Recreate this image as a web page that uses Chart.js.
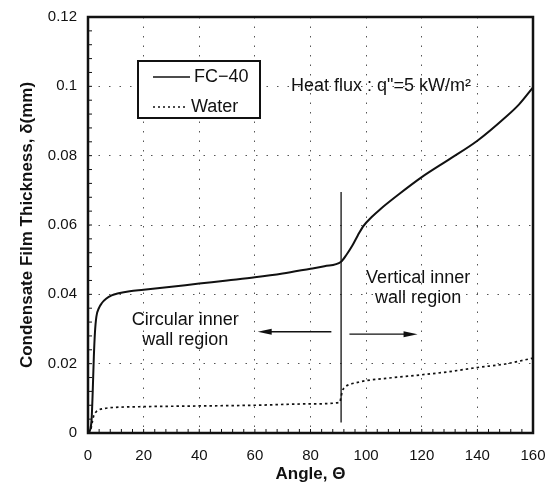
<!DOCTYPE html>
<html>
<head>
<meta charset="utf-8">
<script src="https://cdn.jsdelivr.net/npm/chart.js@4.4.1/dist/chart.umd.min.js"></script>
<style>
  html, body { margin: 0; padding: 0; background: #fff; }
  #wrap { width: 549px; height: 490px; }
</style>
</head>
<body>
<div id="wrap"><canvas id="chart" width="549" height="490"></canvas></div>
<script>
// --- Data ---
const fcAngle = [0, 0.8, 1.3, 1.7, 2.1, 2.5, 3, 4, 5, 6.5, 8.5, 11, 15, 20, 30, 40, 50, 60, 70, 80, 85, 91, 93, 95, 97, 99, 102, 105, 112, 120, 130, 140, 150, 155, 160];
const fcThickness = [0, 0.001, 0.004, 0.012, 0.022, 0.029, 0.0335, 0.0362, 0.0375, 0.0387, 0.0397, 0.0403, 0.0409, 0.0413, 0.0422, 0.0431, 0.0440, 0.0449, 0.0460, 0.0474, 0.0481, 0.0494, 0.0515, 0.0540, 0.0570, 0.0597, 0.0623, 0.0645, 0.0690, 0.0738, 0.0790, 0.0843, 0.0910, 0.0948, 0.0997];

const waterAngle = [0, 1, 1.5, 2, 2.5, 3, 4, 6, 10, 20, 40, 60, 80, 90.5, 91, 91.5, 92.5, 94, 97, 100, 110, 120, 130, 140, 150, 160];
const waterThickness = [0, 0.001, 0.003, 0.0048, 0.0057, 0.0062, 0.0067, 0.0071, 0.0074, 0.0076, 0.0078, 0.0080, 0.0084, 0.0088, 0.0105, 0.0122, 0.0133, 0.0140, 0.0146, 0.0151, 0.0160, 0.0168, 0.0177, 0.0189, 0.0199, 0.0216];

// boundary between the two wall regions
const dividerAngle = [91, 91];
const dividerThickness = [0.003, 0.0695];

// region arrows: [fromAngle, toAngle, thickness]
const leftArrow = [87.5, 61, 0.0292];
const rightArrow = [94, 118.5, 0.0285];

const xTicks = [0, 20, 40, 60, 80, 100, 120, 140, 160];
const yTicks = [0, 0.02, 0.04, 0.06, 0.08, 0.1, 0.12];

const seriesNames = ['FC\u221240', 'Water'];
const fluxLabel = 'Heat flux : q"=5 kW/m\u00b2';
const circularLabel = ['Circular inner', 'wall region'];
const verticalLabel = ['Vertical inner', 'wall region'];

const FONT = "'Liberation Sans', Arial, sans-serif";

function toPoints(xs, ys) {
  return xs.map((x, i) => ({ x: x, y: ys[i] }));
}

function drawArrow(ctx, x1, x2, y) {
  const dir = x2 > x1 ? 1 : -1;
  ctx.beginPath();
  ctx.moveTo(x1, y);
  ctx.lineTo(x2 - dir * 8, y);
  ctx.stroke();
  ctx.beginPath();
  ctx.moveTo(x2, y);
  ctx.lineTo(x2 - dir * 14, y - 3);
  ctx.lineTo(x2 - dir * 14, y + 3);
  ctx.closePath();
  ctx.fill();
}

// frame, minor ticks, legend box, text and arrows
const decorations = {
  id: 'decorations',
  afterDatasetsDraw(chart) {
    const { ctx, chartArea: ca, scales } = chart;
    const xs = scales.x, ys = scales.y;
    ctx.save();
    ctx.strokeStyle = '#111';
    ctx.fillStyle = '#111';

    // minor ticks (5 per major) on left and bottom
    ctx.lineWidth = 1;
    ctx.beginPath();
    for (let v = 0; v <= 160; v += 4) {
      const px = xs.getPixelForValue(v);
      ctx.moveTo(px, ca.bottom);
      ctx.lineTo(px, ca.bottom - 4);
    }
    for (let v = 0; v <= 0.12001; v += 0.004) {
      const py = ys.getPixelForValue(v);
      ctx.moveTo(ca.left, py);
      ctx.lineTo(ca.left + 4, py);
    }
    ctx.stroke();

    // frame
    ctx.lineWidth = 2.5;
    ctx.strokeRect(ca.left, ca.top, ca.right - ca.left, ca.bottom - ca.top);

    // arrows
    ctx.lineWidth = 1.3;
    [leftArrow, rightArrow].forEach(a => {
      drawArrow(ctx, xs.getPixelForValue(a[0]), xs.getPixelForValue(a[1]), ys.getPixelForValue(a[2]));
    });

    // annotation text
    ctx.font = '18px ' + FONT;
    ctx.textBaseline = 'middle';
    ctx.textAlign = 'left';
    ctx.fillText(fluxLabel, xs.getPixelForValue(73), ys.getPixelForValue(0.1));
    ctx.textAlign = 'center';
    ctx.fillText(circularLabel[0], xs.getPixelForValue(35), ys.getPixelForValue(0.0326));
    ctx.fillText(circularLabel[1], xs.getPixelForValue(35), ys.getPixelForValue(0.0268));
    ctx.fillText(verticalLabel[0], xs.getPixelForValue(118.7), ys.getPixelForValue(0.0446));
    ctx.fillText(verticalLabel[1], xs.getPixelForValue(118.7), ys.getPixelForValue(0.0388));

    // legend box
    const bx = ca.left + 50, by = ca.top + 44, bw = 122, bh = 57;
    ctx.fillStyle = '#fff';
    ctx.fillRect(bx, by, bw, bh);
    ctx.lineWidth = 2;
    ctx.strokeRect(bx, by, bw, bh);
    ctx.fillStyle = '#111';
    ctx.lineWidth = 1.5;
    ctx.beginPath();
    ctx.moveTo(bx + 15, by + 16);
    ctx.lineTo(bx + 52, by + 16);
    ctx.stroke();
    ctx.setLineDash([2, 3]);
    ctx.beginPath();
    ctx.moveTo(bx + 15, by + 46);
    ctx.lineTo(bx + 50, by + 46);
    ctx.stroke();
    ctx.setLineDash([]);
    ctx.textAlign = 'left';
    ctx.fillText(seriesNames[0], bx + 56, by + 16);
    ctx.fillText(seriesNames[1], bx + 53, by + 46);
    ctx.restore();
  }
};

const gridStyle = {
  color: '#555',
  lineWidth: 1,
  drawTicks: false
};

new Chart(document.getElementById('chart'), {
  type: 'scatter',
  data: {
    datasets: [
      {
        label: seriesNames[0],
        data: toPoints(fcAngle, fcThickness),
        showLine: true,
        borderColor: '#111',
        borderWidth: 2,
        pointRadius: 0,
        cubicInterpolationMode: 'monotone'
      },
      {
        label: seriesNames[1],
        data: toPoints(waterAngle, waterThickness),
        showLine: true,
        borderColor: '#111',
        borderWidth: 1.7,
        borderDash: [2.5, 3],
        pointRadius: 0,
        cubicInterpolationMode: 'monotone'
      },
      {
        label: 'divider',
        data: toPoints(dividerAngle, dividerThickness),
        showLine: true,
        borderColor: '#111',
        borderWidth: 1.3,
        pointRadius: 0
      }
    ]
  },
  options: {
    responsive: false,
    animation: false,
    layout: { padding: { left: 0, right: 16, top: 17, bottom: 0 } },
    plugins: {
      legend: { display: false },
      tooltip: { enabled: false }
    },
    scales: {
      x: {
        type: 'linear',
        min: 0,
        max: 160,
        afterBuildTicks: s => { s.ticks = xTicks.map(v => ({ value: v })); },
        afterFit: s => { s.height = 57; s.paddingLeft = 0; s.paddingRight = 0; },
        grid: Object.assign({}, gridStyle),
        border: { display: false, dash: [1.5, 8] },
        ticks: {
          color: '#111',
          padding: 14,
          maxRotation: 0,
          font: { family: FONT, size: 15 }
        },
        title: {
          display: true,
          text: 'Angle, \u0398',
          color: '#111',
          padding: { top: 0, bottom: 5 },
          font: { family: FONT, size: 17, weight: 'bold' }
        }
      },
      y: {
        type: 'linear',
        min: 0,
        max: 0.12,
        afterBuildTicks: s => { s.ticks = yTicks.map(v => ({ value: v })); },
        afterFit: s => { s.width = 88; s.paddingTop = 0; s.paddingBottom = 0; },
        grid: Object.assign({}, gridStyle),
        border: { display: false, dash: [1.5, 9] },
        ticks: {
          color: '#111',
          padding: 11,
          font: { family: FONT, size: 15 },
          callback: v => String(parseFloat(v.toFixed(2)))
        },
        title: {
          display: true,
          text: 'Condensate Film Thickness, \u03b4(mm)',
          color: '#111',
          padding: { top: 17, bottom: 0 },
          font: { family: FONT, size: 17, weight: 'bold' }
        }
      }
    }
  },
  plugins: [decorations]
});
</script>
</body>
</html>
